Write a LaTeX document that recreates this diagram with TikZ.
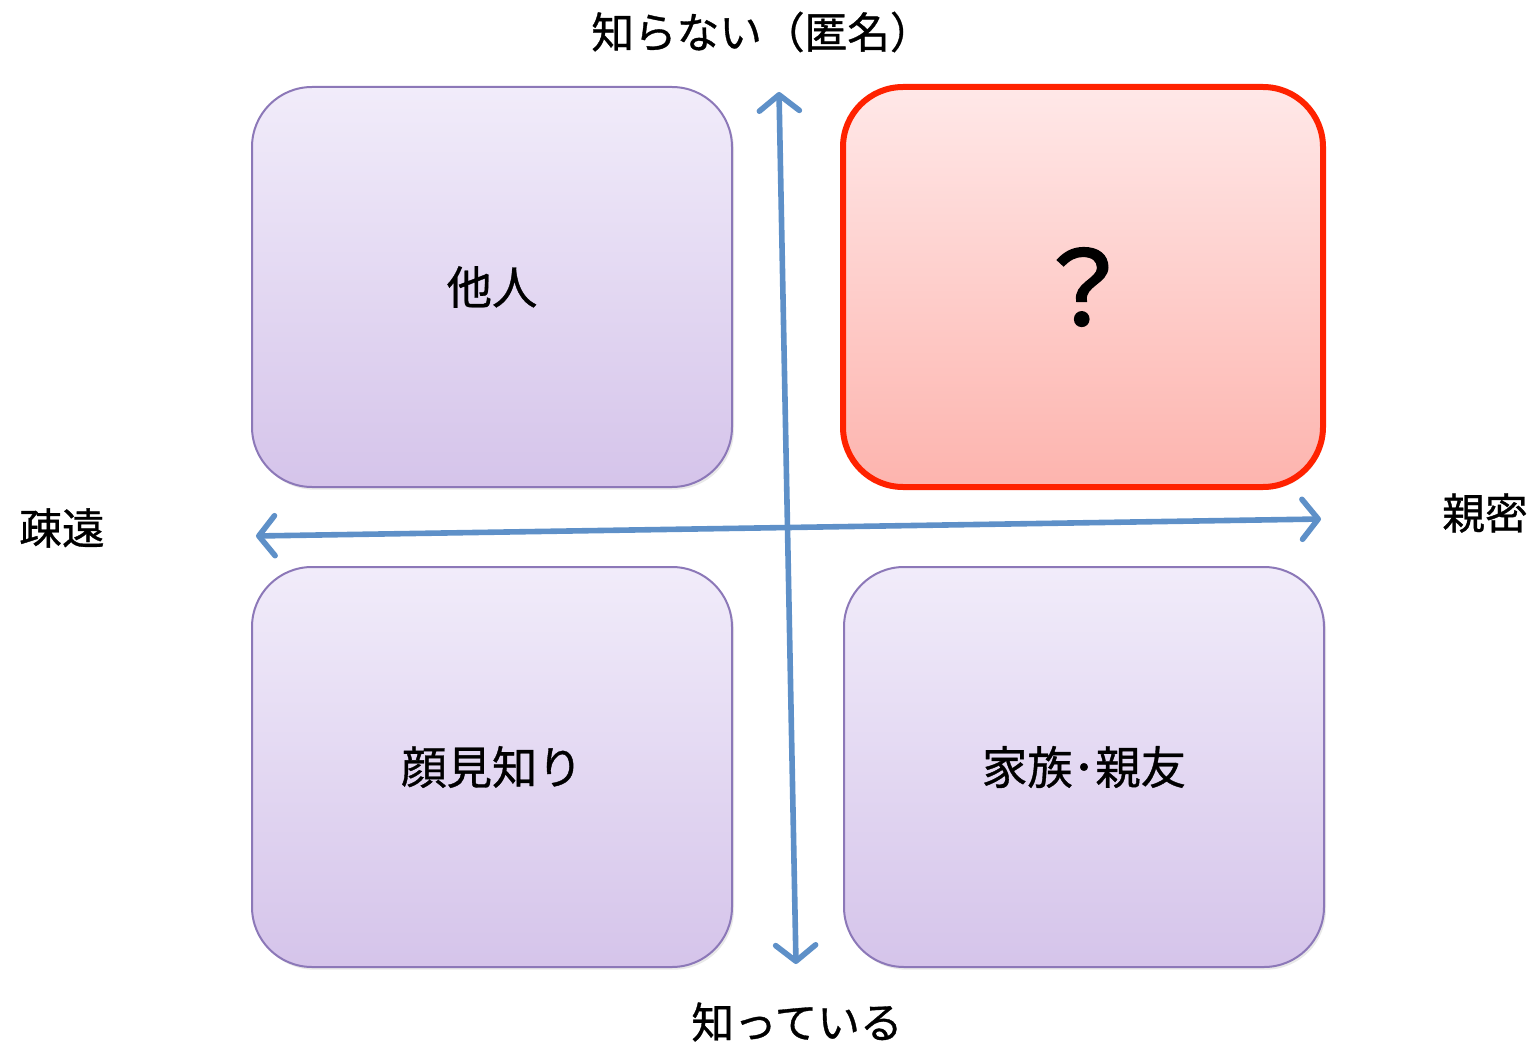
\documentclass[tikz,border=0pt]{standalone}
\usepackage{fontspec}
\setmainfont{Noto Sans CJK JP}
\usetikzlibrary{arrows.meta,shadows}

\definecolor{axisblue}{RGB}{94,144,200}
\definecolor{lavtop}{RGB}{241,236,250}
\definecolor{lavbot}{RGB}{213,196,234}
\definecolor{lavedge}{RGB}{140,120,184}
\definecolor{rosetop}{RGB}{255,232,232}
\definecolor{rosebot}{RGB}{253,180,174}
\definecolor{alertred}{RGB}{255,34,0}

\tikzset{every picture/.style={line width=0.75pt}}
\tikzset{
  quadbox/.style={draw=lavedge, line width=1.5pt, rounded corners=45pt, top color=lavtop, bottom color=lavbot,
    minimum width=360pt, minimum height=300pt, inner sep=0pt, font=\fontsize{34}{36}\selectfont\addfontfeatures{FakeBold=0.8},
    drop shadow={opacity=0.18, shadow xshift=1.5pt, shadow yshift=-2pt}},
  askbox/.style={quadbox, draw=alertred, line width=4.5pt, top color=rosetop, bottom color=rosebot},
  axis/.style={draw=axisblue, line width=4.2pt, line cap=round, line join=round,
    {Straight Barb[length=12pt, width=30pt, line cap=round, line join=round]}-{Straight Barb[length=12pt, width=30pt, line cap=round, line join=round]}},
  axislabel/.style={inner sep=0.75pt, font=\fontsize{32}{34}\selectfont\addfontfeatures{FakeBold=0.8}}
}

\begin{document}
\begin{tikzpicture}[x=0.75pt,y=0.75pt,yscale=-1,xscale=1]
\useasboundingbox (0,0) rectangle (1539,1045);

% Quadrants
\node [quadbox] (stranger) at (492,287) {他人};
\node [askbox] (unknown) at (1083,287) {\raisebox{-6pt}{\fontsize{76}{80}\selectfont\addfontfeatures{FakeBold=2.5}？}};
\node [quadbox] (acquaint) at (492,767) {顔見知り};
\node [quadbox] (close) at (1084,767) {家族･親友};

% Axes
\coordinate (top) at (779,92);
\coordinate (bottom) at (796,964);
\coordinate (left) at (256,536);
\coordinate (right) at (1321,519);
\draw [axis] (bottom) -- (top);
\draw [axis] (left) -- (right);

% Axis labels
\node [axislabel] (anon) at (762,32) {知らない（匿名）};
\node [axislabel] (known) at (797,1022) {知っている};
\node [axislabel] (distant) at (62,528) {疎遠};
\node [axislabel] (intimate) at (1485,513) {親密};

\end{tikzpicture}
\end{document}
